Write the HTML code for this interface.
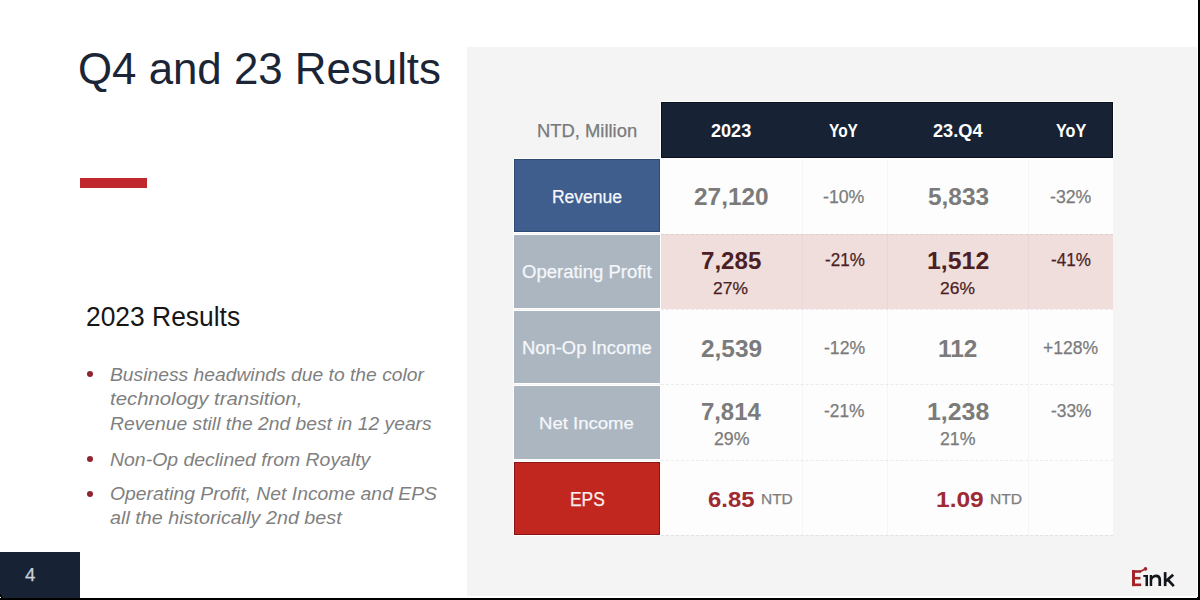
<!DOCTYPE html>
<html><head><meta charset="utf-8"><style>
html,body{margin:0;padding:0;}
body{width:1200px;height:600px;position:relative;overflow:hidden;background:#ffffff;font-family:"Liberation Sans",sans-serif;}
.b{position:absolute;}
.t{position:absolute;white-space:nowrap;transform-origin:0 0;}
</style></head><body>
<div class="b" style="left:467px;top:47px;width:730px;height:549px;background:#f4f4f4;"></div>
<div class="b" style="left:80px;top:178px;width:67px;height:10px;background:#c0282d;"></div>
<div class="b" style="left:0;top:552px;width:80px;height:48px;background:#172334;"></div>
<div class="b" style="left:87px;top:370.5px;width:6px;height:6px;border-radius:50%;background:#8f2530;"></div>
<div class="b" style="left:87px;top:455.5px;width:6px;height:6px;border-radius:50%;background:#8f2530;"></div>
<div class="b" style="left:87px;top:490.5px;width:6px;height:6px;border-radius:50%;background:#8f2530;"></div>
<!-- table -->
<div class="b" style="left:661px;top:102px;width:452px;height:56px;background:#172334;box-shadow:inset 0 0 0 1px #0b121c,0 0 0 1px #fff;"></div>
<div class="b" style="left:661px;top:159px;width:452px;height:376px;background:#fdfdfd;"></div>
<div class="b" style="left:661px;top:234px;width:452px;height:75px;background:#f0dedd;"></div>
<div class="b" style="left:802px;top:159px;width:1px;height:376px;background:rgba(0,0,0,0.03);"></div>
<div class="b" style="left:887px;top:159px;width:1px;height:376px;background:rgba(0,0,0,0.03);"></div>
<div class="b" style="left:1028px;top:159px;width:1px;height:376px;background:rgba(0,0,0,0.03);"></div>
<div class="b" style="left:661px;top:234px;width:452px;height:0;border-top:1px dashed rgba(0,0,0,0.07);"></div>
<div class="b" style="left:661px;top:309px;width:452px;height:0;border-top:1px dashed rgba(0,0,0,0.07);"></div>
<div class="b" style="left:661px;top:384px;width:452px;height:0;border-top:1px dashed rgba(0,0,0,0.07);"></div>
<div class="b" style="left:661px;top:460px;width:452px;height:0;border-top:1px dashed rgba(0,0,0,0.07);"></div>
<div class="b" style="left:661px;top:535px;width:452px;height:0;border-top:1px dashed rgba(0,0,0,0.07);"></div>
<div class="b" style="left:514px;top:159px;width:146px;height:73px;background:#3f5e8d;box-shadow:inset 0 0 0 1px #2f4a72,0 0 0 1px #fff;"></div>
<div class="b" style="left:514px;top:235px;width:146px;height:73px;background:#acb6c0;box-shadow:0 0 0 1px #fff;"></div>
<div class="b" style="left:514px;top:311px;width:146px;height:72px;background:#acb6c0;box-shadow:0 0 0 1px #fff;"></div>
<div class="b" style="left:514px;top:386px;width:146px;height:73px;background:#acb6c0;box-shadow:0 0 0 1px #fff;"></div>
<div class="b" style="left:514px;top:462px;width:146px;height:73px;background:#c1261f;box-shadow:inset 0 0 0 1px #8c1414,0 0 0 1px #fff;"></div>
<!-- logo -->
<svg class="b" style="left:1125px;top:560px;" width="60" height="30" viewBox="1125 560 60 30">
<g fill="#a2242a">
<rect x="1132" y="570.2" width="3" height="15.9"/>
<rect x="1132" y="570.2" width="9" height="2.6"/>
<rect x="1132" y="576.9" width="8.5" height="2.5"/>
<rect x="1132" y="583.5" width="9.2" height="2.6"/>
<circle cx="1145.5" cy="568.9" r="1.8"/>
</g>
<path d="M1140 571.8 L1145 569" stroke="#a2242a" stroke-width="1.6" fill="none"/>
<g fill="#14161e">
<rect x="1145.5" y="575" width="2.5" height="11.1"/>
<rect x="1143.3" y="575" width="4.7" height="1.9"/>
<path d="M1149.7 586.1 V575.1 H1152.2 V576.5 C1153 575.2 1154.4 574.5 1156.1 574.5 C1159.1 574.5 1161.1 576.3 1161.1 579.6 V586.1 H1158.4 V580.3 C1158.4 578.3 1157.6 577.3 1155.9 577.3 C1153.9 577.3 1152.2 578.6 1152.2 580.8 V586.1 Z"/>
<rect x="1163.8" y="572.1" width="2.7" height="14"/>
</g>
<path d="M1165.8 581.2 L1173.2 574.8 M1167.3 579.1 L1173.8 586.1" stroke="#14161e" stroke-width="2.8" fill="none"/>
</svg>
<!-- frame -->
<div class="b" style="left:0;top:594px;width:6px;height:6px;background:radial-gradient(circle at 100% 0,transparent 4.5px,#000 5px,#000 6px,#fff 6.5px);"></div>
<div class="b" style="left:1194px;top:594px;width:6px;height:6px;background:radial-gradient(circle at 0 0,transparent 4.5px,#000 5px,#000 6px,#fff 6.5px);"></div>
<div class="b" style="left:1198px;top:0;width:2px;height:600px;background:#000;"></div>
<div class="b" style="left:0;top:598px;width:1200px;height:2px;background:#000;"></div>
<span class="t" style="left:78.43px;top:46.91px;font-size:44.93px;line-height:44.93px;color:#1b2536;transform:scaleX(0.9755);">Q4 and 23 Results</span>
<span class="t" style="left:86.08px;top:303.50px;font-size:26.81px;line-height:26.81px;color:#161616;transform:scaleX(0.9853);">2023 Results</span>
<span class="t" style="left:110.22px;top:366.00px;font-size:18.84px;line-height:18.84px;color:#7f7f7f;font-style:italic;transform:scaleX(1.0237);">Business headwinds due to the color</span>
<span class="t" style="left:109.88px;top:390.31px;font-size:18.84px;line-height:18.84px;color:#7f7f7f;font-style:italic;transform:scaleX(1.0810);">technology transition,</span>
<span class="t" style="left:110.22px;top:415.00px;font-size:18.84px;line-height:18.84px;color:#7f7f7f;font-style:italic;transform:scaleX(1.0245);">Revenue still the 2nd best in 12 years</span>
<span class="t" style="left:110.22px;top:450.81px;font-size:18.84px;line-height:18.84px;color:#7f7f7f;font-style:italic;transform:scaleX(1.0323);">Non-Op declined from Royalty</span>
<span class="t" style="left:109.73px;top:485.00px;font-size:18.84px;line-height:18.84px;color:#7f7f7f;font-style:italic;transform:scaleX(1.0278);">Operating Profit, Net Income and EPS</span>
<span class="t" style="left:110.40px;top:509.00px;font-size:18.84px;line-height:18.84px;color:#7f7f7f;font-style:italic;transform:scaleX(1.0493);">all the historically 2nd best</span>
<span class="t" style="left:24.93px;top:566.01px;font-size:18.41px;line-height:18.41px;color:#c9d1dc;transform:scaleX(1.0167);-webkit-text-stroke:0.25px currentColor;">4</span>
<span class="t" style="left:537.03px;top:121.51px;font-size:18.12px;line-height:18.12px;color:#7a7a7a;transform:scaleX(1.0155);-webkit-text-stroke:0.25px currentColor;">NTD, Million</span>
<span class="t" style="left:710.67px;top:123.01px;font-size:17.54px;line-height:17.54px;color:#ffffff;font-weight:bold;transform:scaleX(1.0320);">2023</span>
<span class="t" style="left:829.29px;top:123.01px;font-size:17.54px;line-height:17.54px;color:#ffffff;font-weight:bold;transform:scaleX(0.8826);">YoY</span>
<span class="t" style="left:932.86px;top:123.01px;font-size:17.54px;line-height:17.54px;color:#ffffff;font-weight:bold;transform:scaleX(1.0364);">23.Q4</span>
<span class="t" style="left:1055.68px;top:123.01px;font-size:17.54px;line-height:17.54px;color:#ffffff;font-weight:bold;transform:scaleX(0.9230);">YoY</span>
<span class="t" style="left:551.90px;top:188.51px;font-size:17.54px;line-height:17.54px;color:#f4f7fb;-webkit-text-stroke:0.25px currentColor;">Revenue</span>
<span class="t" style="left:522.07px;top:264.01px;font-size:17.54px;line-height:17.54px;color:#f4f7fb;transform:scaleX(1.0552);-webkit-text-stroke:0.25px currentColor;">Operating Profit</span>
<span class="t" style="left:521.73px;top:340.22px;font-size:17.83px;line-height:17.83px;color:#f4f7fb;transform:scaleX(1.0314);-webkit-text-stroke:0.25px currentColor;">Non-Op Income</span>
<span class="t" style="left:539.22px;top:416.01px;font-size:16.52px;line-height:16.52px;color:#f4f7fb;transform:scaleX(1.1231);-webkit-text-stroke:0.25px currentColor;">Net Income</span>
<span class="t" style="left:569.71px;top:488.71px;font-size:20.29px;line-height:20.29px;color:#fdeeee;transform:scaleX(0.8569);-webkit-text-stroke:0.25px currentColor;">EPS</span>
<span class="t" style="left:694.15px;top:186.41px;font-size:23.48px;line-height:23.48px;color:#7b7b7b;font-weight:bold;transform:scaleX(1.0402);">27,120</span>
<span class="t" style="left:927.53px;top:186.41px;font-size:23.48px;line-height:23.48px;color:#7b7b7b;font-weight:bold;transform:scaleX(1.0402);">5,833</span>
<span class="t" style="left:823.20px;top:187.71px;font-size:18.55px;line-height:18.55px;color:#7b7b7b;transform:scaleX(0.9562);-webkit-text-stroke:0.25px currentColor;">-10%</span>
<span class="t" style="left:1050.20px;top:187.71px;font-size:18.55px;line-height:18.55px;color:#7b7b7b;transform:scaleX(0.9562);-webkit-text-stroke:0.25px currentColor;">-32%</span>
<span class="t" style="left:700.94px;top:249.30px;font-size:23.91px;line-height:23.91px;color:#4b1f24;font-weight:bold;transform:scaleX(1.0081);">7,285</span>
<span class="t" style="left:926.66px;top:249.30px;font-size:23.91px;line-height:23.91px;color:#4b1f24;font-weight:bold;transform:scaleX(1.0402);">1,512</span>
<span class="t" style="left:713.43px;top:280.01px;font-size:17.25px;line-height:17.25px;color:#4b1f24;transform:scaleX(1.0113);-webkit-text-stroke:0.25px currentColor;">27%</span>
<span class="t" style="left:940.43px;top:280.01px;font-size:17.25px;line-height:17.25px;color:#4b1f24;transform:scaleX(1.0113);-webkit-text-stroke:0.25px currentColor;">26%</span>
<span class="t" style="left:824.51px;top:252.01px;font-size:17.83px;line-height:17.83px;color:#4b1f24;transform:scaleX(0.9562);-webkit-text-stroke:0.25px currentColor;">-21%</span>
<span class="t" style="left:1051.01px;top:252.01px;font-size:17.83px;line-height:17.83px;color:#4b1f24;transform:scaleX(0.9562);-webkit-text-stroke:0.25px currentColor;">-41%</span>
<span class="t" style="left:700.97px;top:338.41px;font-size:23.48px;line-height:23.48px;color:#7b7b7b;font-weight:bold;transform:scaleX(1.0402);">2,539</span>
<span class="t" style="left:938.10px;top:338.41px;font-size:23.48px;line-height:23.48px;color:#7b7b7b;font-weight:bold;transform:scaleX(1.0402);">112</span>
<span class="t" style="left:823.86px;top:339.21px;font-size:18.41px;line-height:18.41px;color:#7b7b7b;transform:scaleX(0.9562);-webkit-text-stroke:0.25px currentColor;">-12%</span>
<span class="t" style="left:1043.12px;top:339.21px;font-size:18.41px;line-height:18.41px;color:#7b7b7b;transform:scaleX(0.9535);-webkit-text-stroke:0.25px currentColor;">+128%</span>
<span class="t" style="left:700.94px;top:400.00px;font-size:23.91px;line-height:23.91px;color:#7b7b7b;font-weight:bold;">7,814</span>
<span class="t" style="left:926.53px;top:400.00px;font-size:23.91px;line-height:23.91px;color:#7b7b7b;font-weight:bold;transform:scaleX(1.0402);">1,238</span>
<span class="t" style="left:713.63px;top:430.71px;font-size:17.54px;line-height:17.54px;color:#7b7b7b;transform:scaleX(1.0113);-webkit-text-stroke:0.25px currentColor;">29%</span>
<span class="t" style="left:940.13px;top:430.71px;font-size:17.54px;line-height:17.54px;color:#7b7b7b;transform:scaleX(1.0113);-webkit-text-stroke:0.25px currentColor;">21%</span>
<span class="t" style="left:824.19px;top:402.01px;font-size:18.12px;line-height:18.12px;color:#7b7b7b;transform:scaleX(0.9562);-webkit-text-stroke:0.25px currentColor;">-21%</span>
<span class="t" style="left:1050.69px;top:402.01px;font-size:18.12px;line-height:18.12px;color:#7b7b7b;transform:scaleX(0.9562);-webkit-text-stroke:0.25px currentColor;">-33%</span>
<span class="t" style="left:707.86px;top:488.60px;font-size:22.61px;line-height:22.61px;color:#9e2a33;font-weight:bold;transform:scaleX(1.0559);">6.85</span>
<span class="t" style="left:761.16px;top:490.81px;font-size:15.22px;line-height:15.22px;color:#7d7d7d;transform:scaleX(1.0147);-webkit-text-stroke:0.25px currentColor;">NTD</span>
<span class="t" style="left:936.33px;top:488.60px;font-size:22.61px;line-height:22.61px;color:#9e2a33;font-weight:bold;transform:scaleX(1.0854);">1.09</span>
<span class="t" style="left:989.75px;top:490.81px;font-size:15.22px;line-height:15.22px;color:#7d7d7d;transform:scaleX(1.0283);-webkit-text-stroke:0.25px currentColor;">NTD</span>
</body></html>
